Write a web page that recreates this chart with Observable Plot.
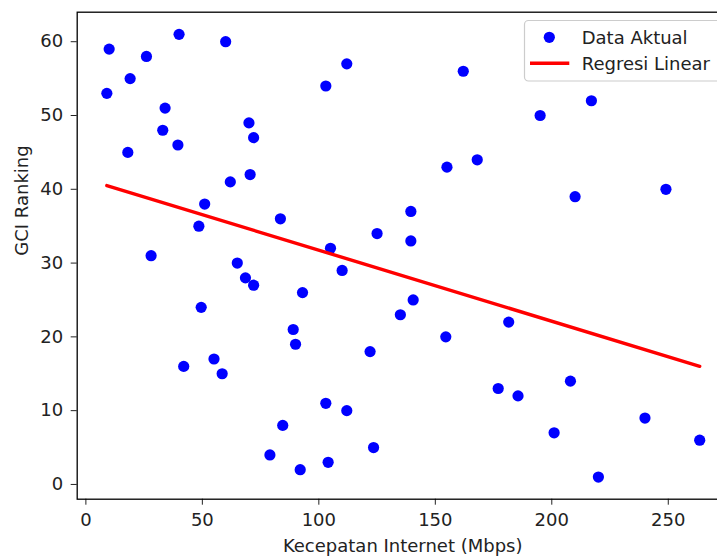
<!DOCTYPE html>
<html>
<head>
<meta charset="utf-8">
<script src="https://cdn.jsdelivr.net/npm/d3@7"></script>
<script src="https://cdn.jsdelivr.net/npm/@observablehq/plot@0.6"></script>
<style>
  html, body { margin: 0; padding: 0; background: #fff; }
  #chart svg { font-family: "DejaVu Sans", sans-serif; }
</style>
</head>
<body>
<div id="chart"></div>
<script>
// GCI ranking (1..61) and the matching internet speed (Mbps)
const gciRanking = d3.range(1, 62);
const internetSpeed = [
  220, 92, 104, 79, 123.5, 263.5, 201, 84.5, 240, 112,
  103, 185.5, 177, 208, 58.5, 42, 55, 122, 90, 154.5,
  89, 181.5, 135, 49.5, 140.5, 93, 72, 68.5, 110, 65,
  28, 105, 139.5, 125, 48.5, 83.5, 139.5, 51, 210, 249,
  62, 70.5, 155, 168, 18, 39.5, 72, 33, 70, 195,
  34, 217, 9, 103, 19, 162, 112, 26, 10, 60,
  40
];
const xTicks = [0, 50, 100, 150, 200, 250];
const yTicks = [0, 10, 20, 30, 40, 50, 60];
const xLabel = "Kecepatan Internet (Mbps)";
const yLabel = "GCI Ranking";
const legendLabels = ["Data Aktual", "Regresi Linear"];

const data = gciRanking.map((r, i) => ({speed: internetSpeed[i], gci: r}));

const W = 717, H = 557;
const mL = 76.7, mT = 11.7, mB = 557 - 498.7, mR = -10.7;
const fs = 18;

const chart = Plot.plot({
  width: W,
  height: H,
  marginLeft: mL,
  marginTop: mT,
  marginBottom: mB,
  marginRight: mR,
  style: {fontFamily: "DejaVu Sans, sans-serif", fontSize: fs + "px", color: "#222", background: "#fff"},
  x: {domain: [-3.725, 275.725], ticks: xTicks, tickSize: 6, tickPadding: 8, label: null},
  y: {domain: [-2, 64], ticks: yTicks, tickSize: 6, tickPadding: 8, label: null},
  marks: [
    Plot.dot(data, {x: "speed", y: "gci", r: 5.6, fill: "#0000ff", stroke: "none"}),
    Plot.linearRegressionY(data, {x: "speed", y: "gci", stroke: "#ff0000", strokeWidth: 3.4, ci: 0}),
    Plot.frame({stroke: "#000", strokeWidth: 1.3}),
    Plot.text([xLabel], {frameAnchor: "bottom", dy: 40, lineAnchor: "top", text: d => d, fontSize: fs, fill: "#222"}),
    Plot.text([yLabel], {frameAnchor: "left", dx: -55, rotate: -90, lineAnchor: "middle", text: d => d, fontSize: fs, fill: "#222"})
  ]
});

document.getElementById("chart").appendChild(chart);

// Legend (matplotlib-style, upper right)
const svg = d3.select(chart);
const lg = svg.append("g").attr("font-family", "DejaVu Sans, sans-serif").attr("font-size", fs).attr("text-anchor", "start");
lg.append("rect").attr("x", 524.5).attr("y", 20.5).attr("width", 200).attr("height", 60.5)
  .attr("rx", 4).attr("fill", "#fff").attr("fill-opacity", 0.8).attr("stroke", "#cccccc").attr("stroke-width", 1.2);
lg.append("circle").attr("cx", 549.3).attr("cy", 37.3).attr("r", 5.6).attr("fill", "#0000ff");
lg.append("line").attr("x1", 530).attr("x2", 569.3).attr("y1", 63.3).attr("y2", 63.3)
  .attr("stroke", "#ff0000").attr("stroke-width", 3.4);
lg.append("text").attr("x", 581.7).attr("y", 37.3).attr("dy", "0.35em").attr("fill", "#222").attr("text-anchor", "start").text(legendLabels[0]);
lg.append("text").attr("x", 581.7).attr("y", 63.3).attr("dy", "0.35em").attr("fill", "#222").attr("text-anchor", "start").text(legendLabels[1]);
</script>
</body>
</html>
